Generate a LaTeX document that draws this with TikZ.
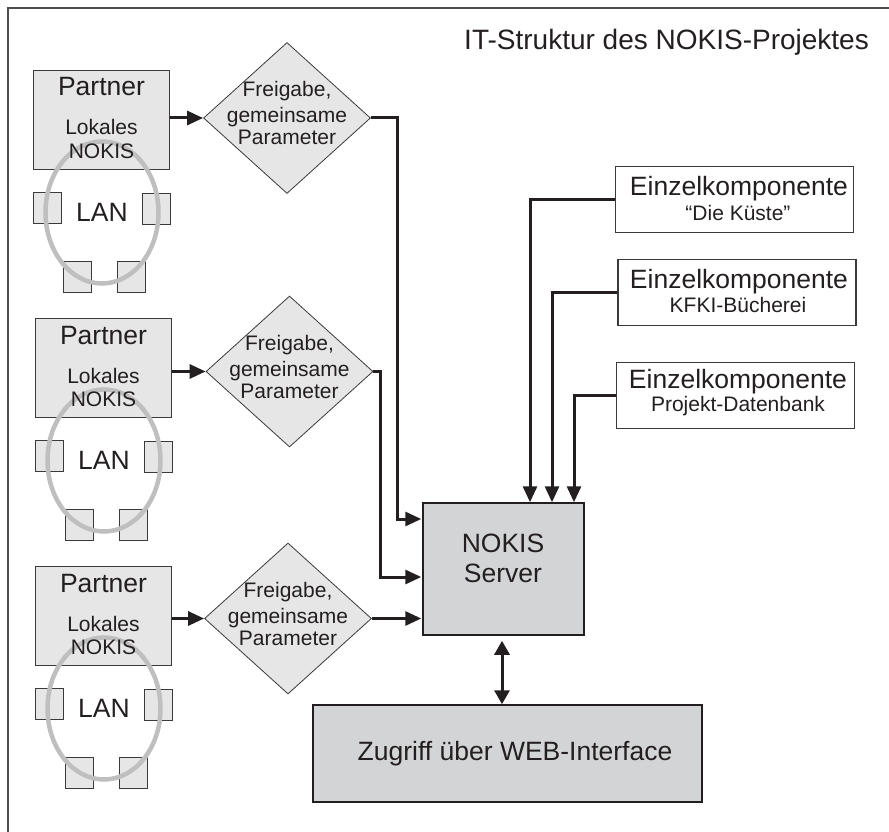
\documentclass[tikz,border=0pt]{standalone}
\usepackage{fontspec}
\setmainfont{Liberation Sans}
\usetikzlibrary{arrows.meta,shapes.geometric}
\definecolor{boxfill}{HTML}{E6E6E6}
\definecolor{srvfill}{HTML}{D3D4D5}
\definecolor{ring}{HTML}{BFBFBF}
\definecolor{ink}{HTML}{231F20}
\definecolor{edge}{HTML}{3A3A3A}
\tikzset{
 big/.style={font=\fontsize{26.5}{30}\selectfont, text=ink, inner sep=0pt, anchor=base},
 small/.style={font=\fontsize{21}{24}\selectfont, text=ink, inner sep=0pt, anchor=base},
 pbox/.style={draw=edge, line width=1.3pt, fill=boxfill, minimum width=136pt, minimum height=99pt, inner sep=0pt},
 pc/.style={draw=edge, line width=0.9pt, fill=boxfill, minimum width=28pt, minimum height=31pt, inner sep=0pt},
 dia/.style={diamond, draw=edge, line width=0.8pt, fill=boxfill, minimum width=167pt, minimum height=151pt, inner sep=0pt},
 ebox/.style={draw=edge, line width=1.5pt, fill=white, minimum width=238pt, minimum height=66pt, inner sep=0pt},
 sbox/.style={draw=ink, line width=1.5pt, fill=srvfill, inner sep=0pt},
 arr/.style={line width=3pt, draw=ink, -{Triangle[length=16pt,width=14pt]}},
 arrboth/.style={line width=3pt, draw=ink, {Triangle[length=14pt,width=15pt]}-{Triangle[length=14pt,width=15pt]}},
 lan/.style={draw=ring, line width=4.5pt},
 frameline/.style={draw=gray!60!black, line width=1.5pt},
}
\begin{document}
\begin{tikzpicture}[x=1pt,y=-1pt]
\useasboundingbox (0,0) rectangle (889,832);
\draw[frameline] (8,832) -- (8,8) -- (889,8);
\node[big, font=\fontsize{28}{32}\selectfont, anchor=base east] (title) at (869,50) {IT-Struktur des NOKIS-Projektes};

\foreach \i/\dx/\dy/\cx/\cy in {1/0/0/287/118, 2/2/248/289.5/371.5, 3/2/496/288/618.5}{
  \node[pbox] (p\i) at (101.5+\dx,120+\dy) {};
  \node[pc] (sl\i) at (47.5+\dx,207.5+\dy) {};
  \node[pc] (sr\i) at (156.5+\dx,209+\dy) {};
  \node[pc] (sbl\i) at (77+\dx,277+\dy) {};
  \node[pc] (sbr\i) at (131+\dx,277+\dy) {};
  \draw[lan] (102+\dx,212.5+\dy) ellipse [x radius=56.5, y radius=71];
  \node[big] (pt\i) at (101.5+\dx,96+\dy) {Partner};
  \node[small] (lk\i) at (101.5+\dx,135+\dy) {Lokales};
  \node[small] (nk\i) at (101.5+\dx,158+\dy) {NOKIS};
  \node[big] (lan\i) at (102+\dx,221+\dy) {LAN};
  \node[dia] (d\i) at (\cx,\cy) {};
  \node[small] (fa\i) at (\cx,\cy-21) {Freigabe,};
  \node[small] (fb\i) at (\cx,\cy+5) {gemeinsame};
  \node[small] (fc\i) at (\cx,\cy+27) {Parameter};
  \draw[arr] (p\i.east |- d\i.west) -- (d\i.west);
}

\node[sbox, minimum width=161pt, minimum height=132pt] (srv) at (503.5,569) {};
\node[big] (srva) at (503,552) {NOKIS};
\node[big] (srvb) at (503,582) {Server};
\node[sbox, minimum width=389pt, minimum height=97pt] (web) at (507.5,753.5) {};
\node[big] (webt) at (515,760) {Zugriff über WEB-Interface};

\node[ebox] (e1) at (734.5,199.5) {};
\node[big] (e1a) at (739,196) {Einzelkomponente};
\node[small] (e1b) at (738,220) {“Die Küste”};
\node[ebox] (e2) at (737,292.5) {};
\node[big] (e2a) at (739,288) {Einzelkomponente};
\node[small] (e2b) at (738,312) {KFKI-Bücherei};
\node[ebox] (e3) at (735.5,395.5) {};
\node[big] (e3a) at (738,388) {Einzelkomponente};
\node[small] (e3b) at (738,411) {Projekt-Datenbank};

\draw[arr, shorten >=1pt] (d1.east) -| (397,519) -- (srv.west |- 0,519);
\draw[arr, shorten >=1pt] (d2.east) -| (380,577) -- (srv.west |- 0,577);
\draw[arr, shorten >=1pt] (d3.east) -- (d3.east -| srv.west);
\draw[arr] (e1.west) -| (srv.north -| 530,0);
\draw[arr] (e2.west) -| (srv.north -| 552,0);
\draw[arr] (e3.west) -| (srv.north -| 574,0);
\draw[arrboth, shorten <=5pt] (srv.south -| 502,0) -- (web.north -| 502,0);
\end{tikzpicture}
\end{document}
